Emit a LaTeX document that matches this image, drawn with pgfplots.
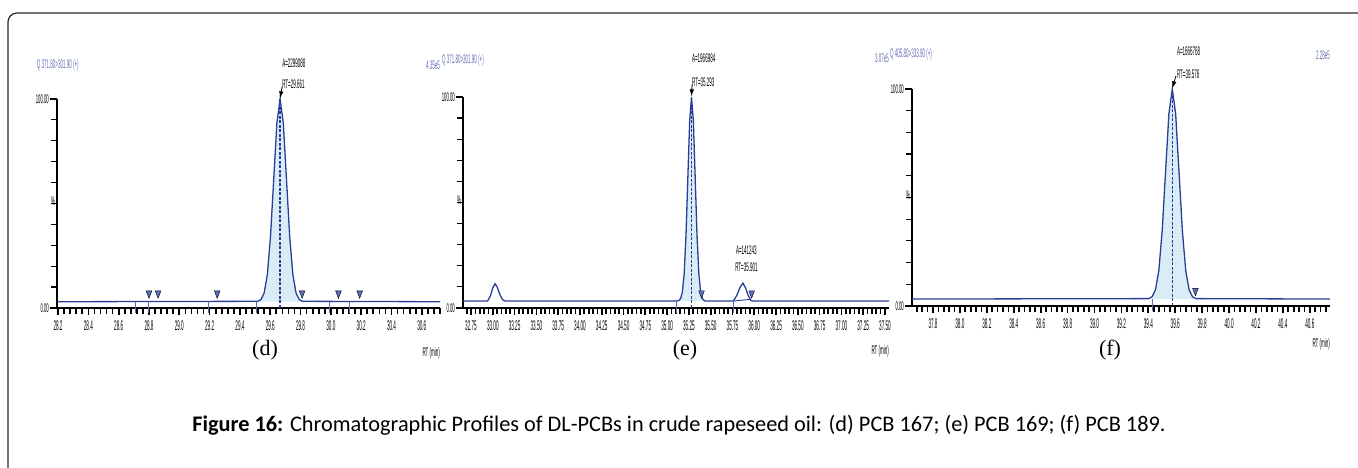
\documentclass[border=0pt]{standalone}
\usepackage{pgfplots}
\pgfplotsset{compat=1.18}
\usepackage{fontspec}
\setmainfont{Liberation Sans}
\newfontfamily\timesf{Liberation Serif}
\newfontfamily\capf{Carlito}
\usetikzlibrary{arrows.meta}
\definecolor{trace}{RGB}{42,62,152}
\definecolor{pkfill}{RGB}{218,237,246}
\definecolor{tri}{RGB}{88,108,192}
\definecolor{qblue}{RGB}{98,110,180}
\definecolor{bnd}{RGB}{90,110,185}
\definecolor{framec}{RGB}{40,40,40}

\tikzset{
  sq/.style={font=\fontsize{12.5}{12.5}\selectfont, xscale=0.36, inner sep=0pt},
  sqb/.style={sq, text=qblue},
  pkarrow/.style={black, line width=0.8pt, -{Latex[length=7pt,width=4.5pt]}},
}
\pgfplotsset{
  chrom/.style={
    scale only axis, clip=false,
    axis lines=left,
    axis line style={-, line width=1.6pt, black},
    ymin=0, ymax=100,
    ytick={0,100}, yticklabels={0.00,100.00},
    minor ytick={10,20,...,90},
    tick align=outside,
    major tick length=7pt, minor tick length=6pt,
    tick style={black, line width=1.7pt},
    minor tick style={black, line width=1.7pt},
    ytick style={line width=1.2pt},
    y tick label style={font=\fontsize{12.5}{12.5}\selectfont, xscale=0.34},
    x tick label style={font=\fontsize{14}{14}\selectfont, xscale=0.33, yshift=-2pt},
    /pgf/number format/assume math mode=true,
    /pgf/number format/fixed, /pgf/number format/fixed zerofill,
  },
  trc/.style={color=trace, line width=1.3pt},
  pkf/.style={draw=none, fill=pkfill},
  ctr/.style={color=trace, line width=1.5pt, dash pattern=on 3pt off 1.5pt},
  tris/.style={only marks, mark=triangle*, mark size=3.3pt, mark options={rotate=180, yscale=1.5, fill=tri, draw=none}},
  bnds/.style={color=bnd, line width=1pt, unbounded coords=jump},
}

\begin{document}
\begin{tikzpicture}
\useasboundingbox (0pt,0pt) rectangle (1358pt,468pt);
\draw[framec, line width=1.2pt, rounded corners=9pt] (8pt,-20pt) -- (8pt,455pt) -- (1375pt,455pt);

% ---------------- (d) ----------------
\begin{axis}[chrom, at={(57pt,160pt)}, anchor=south west, width=383pt, height=209pt,
  xmin=28.193, xmax=30.72,
  xtick={28.2,28.4,28.6,28.8,29.0,29.2,29.4,29.6,29.8,30.0,30.2,30.4,30.6},
  minor xtick={28.24,28.28,...,30.73},
  /pgf/number format/precision=1]
\addplot[pkf] coordinates {(29.51,3) (29.518,3.2) (29.539,4.08) (29.56,7.26) (29.581,16.1) (29.602,34.5) (29.623,61.8) (29.644,88.6) (29.665,100) (29.686,88.6) (29.707,61.8) (29.728,34.5) (29.749,16.1) (29.77,7.26) (29.791,4.08) (29.812,3.2) (29.815,3)};
\addplot[trc] coordinates {(28.193,3) (29.518,3.2) (29.539,4.08) (29.56,7.26) (29.581,16.1) (29.602,34.5) (29.623,61.8) (29.644,88.6) (29.665,100) (29.686,88.6) (29.707,61.8) (29.728,34.5) (29.749,16.1) (29.77,7.26) (29.791,4.08) (29.812,3.2) (30.72,3)};
\addplot[ctr] coordinates {(29.665,0) (29.665,100)};
\addplot[bnds] coordinates {(28.71,3) (28.71,-2.5) (28.71,nan) (28.80,3) (28.80,-2.5) (28.80,nan) (29.19,3) (29.19,-2.5) (29.19,nan) (29.51,3) (29.51,-2.5) (29.51,nan) (29.99,3) (29.99,-2.5) (29.99,nan) (30.12,3) (30.12,-2.5)};
\addplot[tris] coordinates {(28.80,7) (28.86,7) (29.25,7) (29.81,7) (30.05,7) (30.19,7)};
\node[sqb, anchor=west] at (axis cs:28.06,116.3) {Q 371.80>301.90 (+)};
\node[sqb, anchor=east] at (axis cs:30.72,116.3) {4.35e5};
\node[sq, anchor=west] at (axis cs:29.679,117.2) {A=2299088};
\node[sq, anchor=west] at (axis cs:29.679,107.2) {RT=29.661};
\draw[pkarrow] (axis cs:29.679,106) -- (axis cs:29.665,100.3);
\node[sq, anchor=east] at (axis cs:30.72,-21.5) {RT (min)};
\node[sq, anchor=east, xshift=-5pt] at (rel axis cs:0,0.51) {\%};
\end{axis}

% ---------------- (e) ----------------
\begin{axis}[chrom, at={(463pt,160pt)}, anchor=south west, width=426pt, height=211pt,
  xmin=32.658, xmax=37.546,
  xtick={32.75,33,33.25,33.5,33.75,34,34.25,34.5,34.75,35,35.25,35.5,35.75,36,36.25,36.5,36.75,37,37.25,37.5},
  minor xtick={32.70,32.75,...,37.56},
  /pgf/number format/precision=2]
\addplot[pkf] coordinates {(35.11,3.3) (35.133,3.5) (35.154,4.4) (35.175,7.5) (35.196,16.4) (35.217,34.7) (35.238,61.9) (35.259,88.6) (35.28,100) (35.301,88.6) (35.322,61.9) (35.343,34.7) (35.364,16.4) (35.385,7.5) (35.406,4.4) (35.427,3.5) (35.44,3.3)};
\addplot[trc] coordinates {(32.658,3.3) (32.94,3.3) (32.97,5.5) (33.00,9.5) (33.025,11.5) (33.05,10) (33.08,6.5) (33.11,4) (33.14,3.3) (35.11,3.3) (35.133,3.5) (35.154,4.4) (35.175,7.5) (35.196,16.4) (35.217,34.7) (35.238,61.9) (35.259,88.6) (35.28,100) (35.301,88.6) (35.322,61.9) (35.343,34.7) (35.364,16.4) (35.385,7.5) (35.406,4.4) (35.427,3.5) (35.44,3.3) (35.76,3.3) (35.80,6) (35.84,10) (35.87,11.8) (35.90,9.5) (35.93,6) (35.96,3.6) (35.98,3.3) (37.546,3.3)};
\addplot[color=trace, line width=0.9pt] coordinates {(35.76,3.3) (35.96,4.1)};
\addplot[ctr] coordinates {(35.28,0) (35.28,100)};
\addplot[bnds] coordinates {(35.11,3.3) (35.11,-2.5) (35.11,nan) (35.76,3.3) (35.76,-2.5)};
\addplot[tris] coordinates {(35.395,7) (35.97,7)};
\node[sqb, anchor=west] at (axis cs:32.417,117.5) {Q 371.80>301.90 (+)};
\node[sqb, anchor=east] at (axis cs:37.546,118.5) {3.07e5};
\node[sq, anchor=west] at (axis cs:35.286,118.5) {A=1966984};
\node[sq, anchor=west] at (axis cs:35.286,107.1) {RT=35.293};
\draw[pkarrow] (axis cs:35.286,106) -- (axis cs:35.28,100.3);
\node[sq] at (axis cs:35.91,27.5) {A=141243};
\node[sq] at (axis cs:35.91,19.4) {RT=35.901};
\node[sq, anchor=east] at (axis cs:37.546,-20.5) {RT (min)};
\node[sq, anchor=east, xshift=-5pt] at (rel axis cs:0,0.51) {\%};
\end{axis}

% ---------------- (f) ----------------
\begin{axis}[chrom, at={(912pt,162pt)}, anchor=south west, width=418pt, height=217pt,
  xmin=37.644, xmax=40.75,
  xtick={37.8,38.0,38.2,38.4,38.6,38.8,39.0,39.2,39.4,39.6,39.8,40.0,40.2,40.4,40.6},
  minor xtick={37.68,37.72,...,40.76},
  /pgf/number format/precision=1]
\addplot[pkf] coordinates {(39.40,3.2) (39.403,3.4) (39.428,4.3) (39.453,7.45) (39.478,16.3) (39.503,34.6) (39.528,61.9) (39.553,88.6) (39.578,100) (39.603,88.6) (39.628,61.9) (39.653,34.6) (39.678,16.3) (39.703,7.45) (39.728,4.3) (39.753,3.4) (39.76,3.2)};
\addplot[trc] coordinates {(37.644,3.2) (39.403,3.4) (39.428,4.3) (39.453,7.45) (39.478,16.3) (39.503,34.6) (39.528,61.9) (39.553,88.6) (39.578,100) (39.603,88.6) (39.628,61.9) (39.653,34.6) (39.678,16.3) (39.703,7.45) (39.728,4.3) (39.753,3.4) (40.75,3.2)};
\addplot[ctr] coordinates {(39.578,0) (39.578,100)};
\addplot[bnds] coordinates {(39.43,3.2) (39.43,-2.5)};
\addplot[tris] coordinates {(39.75,7)};
\node[sqb, anchor=west] at (axis cs:37.481,116.1) {Q 405.80>333.90 (+)};
\node[sqb, anchor=east] at (axis cs:40.75,115.7) {2.28e5};
\node[sq, anchor=west] at (axis cs:39.613,117.5) {A=1666768};
\node[sq, anchor=west] at (axis cs:39.613,106.9) {RT=39.576};
\draw[pkarrow] (axis cs:39.605,106) -- (axis cs:39.578,100.3);
\node[sq, anchor=east] at (axis cs:40.75,-17.5) {RT (min)};
\node[sq, anchor=east, xshift=-5pt] at (rel axis cs:0,0.51) {\%};
\end{axis}

\node[font=\timesf\fontsize{22}{22}\selectfont] at (265pt,118pt) {(d)};
\node[font=\timesf\fontsize{22}{22}\selectfont] at (685pt,118pt) {(e)};
\node[font=\timesf\fontsize{22}{22}\selectfont] at (1110pt,118pt) {(f)};
\node[font=\capf\fontsize{22.3}{24}\selectfont] at (679pt,43pt) {\textbf{Figure 16:} Chromatographic Profiles of DL-PCBs in crude rapeseed oil: (d) PCB 167; (e) PCB 169; (f) PCB 189.};
\end{tikzpicture}
\end{document}
